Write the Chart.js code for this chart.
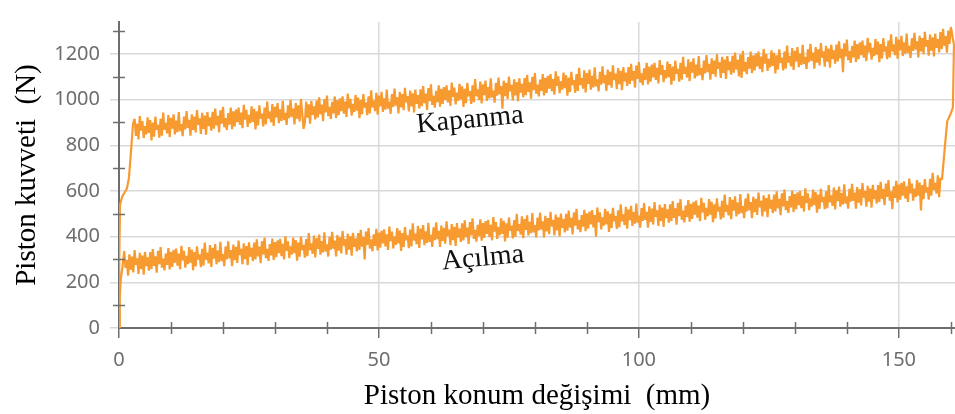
<!DOCTYPE html>
<html>
<head>
<meta charset="utf-8">
<script src="https://cdn.jsdelivr.net/npm/chart.js@4/dist/chart.umd.min.js"></script>
<style>
    html, body { margin: 0; padding: 0; background: #fff; }
    #wrap { width: 955px; height: 414px; position: relative; }
</style>
</head>
<body>
<div id="wrap"><canvas id="forceChart"></canvas></div>
<script>
// Piston force (N) against piston travel (mm), sampled every 0.25 mm on the noisy parts
const bandStep = 0.25;

// opening stroke (Açılma): start-up ramp, then band from x = 1 to 158
const lowerRampX = [0, 0.15, 0.35, 0.6];
const lowerRampY = [0, 140, 215, 255];
const lowerBandStart = 1;
const lowerBandY = [
    337,263,299,229,323,255,313,243,341,277,305,237,329,259,317,233,333,271,309,251,
    332,258,346,272,314,242,338,280,354,264,304,252,326,276,350,256,334,268,342,286,
    348,273,326,258,360,296,338,264,316,280,354,286,343,253,332,270,358,300,322,266,
    347,273,374,299,329,283,363,267,351,304,367,279,339,289,377,293,324,271,357,301,
    379,305,341,271,365,297,355,285,383,319,347,279,371,301,359,275,375,313,351,293,
    374,300,388,314,356,284,380,322,396,306,346,294,368,318,392,298,376,310,384,328,
    390,315,368,300,402,338,380,306,358,322,396,328,385,295,374,312,400,342,364,308,
    389,315,416,341,371,325,405,309,393,346,409,321,381,331,419,335,366,313,399,343,
    421,347,383,313,407,339,397,327,425,361,389,321,413,343,401,317,417,355,393,335,
    416,342,430,356,398,300,422,364,438,348,388,336,410,360,434,340,418,352,426,370,
    432,357,410,342,444,380,422,348,400,364,438,370,427,337,416,354,442,384,406,350,
    431,357,458,383,413,367,447,351,435,388,451,363,423,373,461,377,408,355,441,385,
    463,389,425,355,449,381,439,369,467,403,431,363,455,385,443,359,459,397,435,377,
    458,384,472,398,440,368,464,406,480,390,430,378,452,402,476,382,460,394,468,412,
    474,399,452,384,486,422,464,390,442,406,480,412,469,379,458,396,484,426,448,392,
    473,399,500,425,455,409,489,393,477,430,493,405,465,415,503,419,450,397,483,427,
    505,431,467,397,491,423,481,411,509,445,473,405,497,427,485,401,501,439,477,419,
    500,426,514,440,482,410,506,448,522,432,472,420,494,444,518,424,502,436,510,454,
    516,441,494,400,528,464,506,432,484,448,522,454,511,421,500,438,526,468,490,434,
    515,441,542,467,497,451,531,435,519,472,535,447,507,457,545,461,492,439,525,469,
    547,473,509,439,533,465,523,453,551,487,515,447,539,469,527,443,543,481,519,461,
    542,468,556,482,524,452,548,490,564,474,514,462,536,486,560,466,544,478,552,496,
    558,483,536,468,570,506,548,474,526,490,564,496,553,463,542,480,568,510,532,476,
    557,483,584,509,539,493,573,477,561,514,577,489,549,499,587,503,534,481,567,511,
    589,515,551,481,575,507,565,495,593,529,557,489,581,511,569,485,585,523,561,503,
    584,510,598,524,566,494,590,532,606,516,556,504,578,528,602,508,586,520,594,538,
    600,525,578,510,612,548,590,516,568,532,606,538,595,505,584,522,610,552,574,520,
    599,525,626,551,581,535,615,519,603,556,619,531,591,541,629,545,576,523,609,553,
    631,557,593,523,617,549,607,537,635,571,599,531,623,553,611,527,627,565,603,545,
    626,552,640,566,608,538,632,574,648,558,598,520,620,570,644,550,628,562,636,580,
    642,567,620,552,654,590,632,558,610,574,648,580,637,515,626,564,652,594,616,562,
    653,579,680,605,635,589,669,573,657
];

// turn-around at the end of the stroke
const rightRampX = [158.3, 158.8, 159.3, 159.9, 160.4, 160.6];
const rightRampY = [650, 780, 905, 935, 965, 1240];

// closing stroke (Kapanma): band from x = 3 to 160 (drawn right to left)
const upperBandStart = 3;
const upperBandY = [
    916,841,894,826,928,864,906,832,884,848,922,854,911,821,900,838,926,868,890,834,
    916,842,943,868,898,852,932,836,920,873,936,848,908,858,946,862,893,840,926,870,
    950,876,912,842,936,868,926,856,954,890,918,850,942,872,930,846,946,884,922,864,
    947,873,961,887,929,857,953,895,969,879,919,867,941,891,965,871,949,883,957,901,
    965,890,943,875,977,913,955,881,933,897,971,903,960,870,949,887,975,917,939,883,
    965,891,992,917,947,901,981,885,969,922,985,897,957,907,995,911,942,889,975,919,
    999,925,961,891,985,917,975,905,1003,939,872,899,991,921,979,895,995,933,971,913,
    996,922,1010,936,978,906,1002,944,1018,928,968,916,990,940,1014,920,998,932,1006,950,
    1014,939,992,924,1026,962,1004,930,982,946,1020,952,1009,919,998,936,1024,966,988,932,
    1014,940,1041,966,996,950,1030,934,1018,971,1034,946,1006,956,1044,960,991,938,1024,968,
    1048,974,1010,940,1034,966,1024,954,1052,988,1016,948,1040,970,1028,944,1044,982,1020,962,
    1045,971,1059,985,1027,955,1051,993,1067,977,1017,965,1039,989,1063,969,1047,981,1055,999,
    1063,988,1041,973,1075,1011,1053,979,1031,995,1069,1001,1058,968,1047,985,1073,1015,1037,981,
    1063,989,1090,1015,1045,999,1079,983,1067,1020,1083,995,1055,1005,1093,1009,1040,987,1073,1017,
    1097,1023,1059,960,1083,1015,1073,1003,1101,1037,1065,997,1089,1019,1077,993,1093,1031,1069,1011,
    1094,1020,1108,1034,1076,1004,1100,1042,1116,1026,1066,1014,1088,1038,1112,1018,1096,1030,1104,1048,
    1112,1037,1090,1022,1124,1060,1102,1028,1080,1044,1118,1050,1107,1017,1096,1034,1122,1064,1086,1030,
    1112,1038,1139,1064,1094,1048,1128,1032,1116,1069,1132,1044,1104,1054,1142,1058,1089,1036,1122,1066,
    1146,1072,1108,1038,1132,1064,1122,1052,1150,1086,1114,1046,1138,1068,1126,1042,1142,1080,1118,1060,
    1143,1069,1157,1083,1125,1053,1149,1091,1165,1075,1115,1063,1137,1087,1161,1067,1145,1079,1153,1097,
    1161,1086,1139,1071,1173,1109,1151,1077,1129,1093,1167,1099,1156,1066,1145,1083,1171,1113,1135,1079,
    1161,1087,1188,1113,1143,1097,1177,1081,1165,1118,1181,1093,1153,1103,1191,1107,1138,1085,1171,1115,
    1195,1121,1157,1087,1181,1113,1171,1101,1199,1135,1163,1095,1187,1117,1175,1091,1191,1129,1167,1109,
    1192,1118,1206,1132,1174,1102,1198,1095,1214,1124,1164,1112,1186,1136,1210,1116,1194,1128,1202,1146,
    1210,1135,1188,1120,1222,1158,1200,1126,1178,1142,1216,1148,1205,1115,1194,1132,1220,1162,1184,1128,
    1210,1136,1237,1162,1192,1146,1226,1130,1214,1167,1230,1142,1202,1152,1240,1156,1187,1134,1220,1164,
    1244,1170,1206,1136,1230,1162,1220,1150,1248,1184,1212,1144,1236,1166,1224,1140,1240,1178,1216,1158,
    1241,1167,1255,1181,1223,1120,1247,1189,1263,1173,1213,1161,1235,1185,1259,1165,1243,1177,1251,1195,
    1259,1184,1237,1169,1271,1207,1249,1175,1227,1191,1265,1197,1254,1164,1243,1181,1269,1211,1233,1177,
    1259,1185,1286,1211,1241,1195,1275,1179,1263,1216,1279,1191,1251,1201,1289,1205,1236,1183,1269,1213,
    1293,1219,1255,1185,1279,1211,1269,1199,1297,1233,1261,1193,1285,1215,1273,1189,1289,1227,1265,1207,
    1296,1222,1310,1236,1278,1206,1302,1244,1318
];

// return to zero at the start of the stroke
const leftRampX = [2.7, 2.2, 1.9, 1.5, 1.0, 0.6, 0.2, 0.05, 0];
const leftRampY = [895, 740, 655, 610, 590, 575, 540, 300, 0];

// axis ticks
const xTicks = [0, 10, 20, 30, 40, 50, 60, 70, 80, 90, 100, 110, 120, 130, 140, 150, 160];
const xLabels = [0, 50, 100, 150];
const yTicks = [0, 100, 200, 300, 400, 500, 600, 700, 800, 900, 1000, 1100, 1200, 1300];
const yLabels = [0, 200, 400, 600, 800, 1000, 1200];

const xTitle = 'Piston konum değişimi  (mm)';
const yTitle = 'Piston kuvveti  (N)';

// curve notes, in data coordinates
const notes = [
    { text: 'Kapanma', x: 67.5, y: 910 },
    { text: 'Açılma', x: 70, y: 305 }
];

function pairs(xs, ys) {
    return xs.map((x, i) => ({ x: x, y: ys[i] }));
}
function band(x0, ys) {
    return ys.map((y, i) => ({ x: x0 + i * bandStep, y: y }));
}

const path = [].concat(
    pairs(lowerRampX, lowerRampY),
    band(lowerBandStart, lowerBandY),
    pairs(rightRampX, rightRampY),
    band(upperBandStart, upperBandY).reverse(),
    pairs(leftRampX, leftRampY)
);

const axisColor = '#6e6e6e';
const gridColor = '#d9d9d9';
const tickFont = { family: 'Noto Sans', size: 20 };
const serif = 'Liberation Serif';

// minor tick marks crossing the axis lines, plus the curve notes
const extrasPlugin = {
    id: 'extras',
    afterDraw(chart) {
        const ctx = chart.ctx;
        const xs = chart.scales.x, ys = chart.scales.y;
        const area = chart.chartArea;
        ctx.save();
        ctx.strokeStyle = axisColor;
        ctx.lineWidth = 1.5;
        xTicks.forEach(v => {
            if (xLabels.includes(v)) return;
            const px = Math.round(xs.getPixelForValue(v)) + 0.5;
            ctx.beginPath();
            ctx.moveTo(px, area.bottom - 6);
            ctx.lineTo(px, area.bottom + 6);
            ctx.stroke();
        });
        yTicks.forEach(v => {
            if (yLabels.includes(v)) return;
            const py = Math.round(ys.getPixelForValue(v)) + 0.5;
            ctx.beginPath();
            ctx.moveTo(area.left - 6, py);
            ctx.lineTo(area.left + 6, py);
            ctx.stroke();
        });
        ctx.fillStyle = '#111';
        ctx.font = '28px "' + serif + '"';
        ctx.textAlign = 'center';
        ctx.textBaseline = 'middle';
        notes.forEach(n => {
            ctx.save();
            ctx.translate(xs.getPixelForValue(n.x), ys.getPixelForValue(n.y));
            ctx.rotate(-5.3 * Math.PI / 180);
            ctx.fillText(n.text, 0, 0);
            ctx.restore();
        });
        ctx.restore();
    }
};

new Chart(document.getElementById('forceChart'), {
    type: 'scatter',
    data: {
        datasets: [{
            label: 'Piston kuvveti',
            data: path,
            showLine: true,
            borderColor: '#F79A30',
            borderWidth: 2.2,
            borderJoinStyle: 'bevel',
            pointRadius: 0,
            tension: 0
        }]
    },
    options: {
        responsive: true,
        maintainAspectRatio: false,
        animation: false,
        events: [],
        layout: { padding: { top: 11, right: 0, left: 0, bottom: 0 } },
        plugins: {
            legend: { display: false },
            tooltip: { enabled: false }
        },
        scales: {
            x: {
                type: 'linear',
                min: 0,
                max: 160.8,
                afterBuildTicks: s => { s.ticks = xTicks.map(v => ({ value: v })); },
                afterFit: s => { s.height = 86; s.paddingRight = 0; s.paddingLeft = 0; },
                border: { color: axisColor, width: 2 },
                grid: {
                    color: c => (xLabels.includes(c.tick.value) && c.tick.value !== 0) ? gridColor : 'rgba(0,0,0,0)',
                    tickColor: c => xLabels.includes(c.tick.value) ? axisColor : 'rgba(0,0,0,0)',
                    tickLength: 10,
                    lineWidth: 1.5
                },
                ticks: {
                    autoSkip: false,
                    maxRotation: 0,
                    padding: 10,
                    color: axisColor,
                    font: tickFont,
                    callback: v => xLabels.includes(v) ? String(v) : ''
                },
                title: {
                    display: true,
                    text: xTitle,
                    color: '#000',
                    font: { family: serif, size: 29 },
                    padding: { top: 0, bottom: 0 }
                }
            },
            y: {
                type: 'linear',
                min: 0,
                max: 1340,
                afterBuildTicks: s => { s.ticks = yTicks.map(v => ({ value: v })); },
                afterFit: s => { s.width = 119; },
                border: { color: axisColor, width: 2 },
                grid: {
                    color: c => yLabels.includes(c.tick.value) && c.tick.value !== 0 ? gridColor : 'rgba(0,0,0,0)',
                    tickColor: c => yLabels.includes(c.tick.value) ? gridColor : 'rgba(0,0,0,0)',
                    tickLength: 9,
                    lineWidth: 1.5
                },
                ticks: {
                    autoSkip: false,
                    padding: 10,
                    color: axisColor,
                    font: tickFont,
                    callback: v => yLabels.includes(v) ? String(v) : ''
                },
                title: {
                    display: true,
                    text: yTitle,
                    color: '#000',
                    font: { family: serif, size: 29 },
                    padding: { top: 10, bottom: 0 }
                }
            }
        }
    },
    plugins: [extrasPlugin]
});
</script>
</body>
</html>
